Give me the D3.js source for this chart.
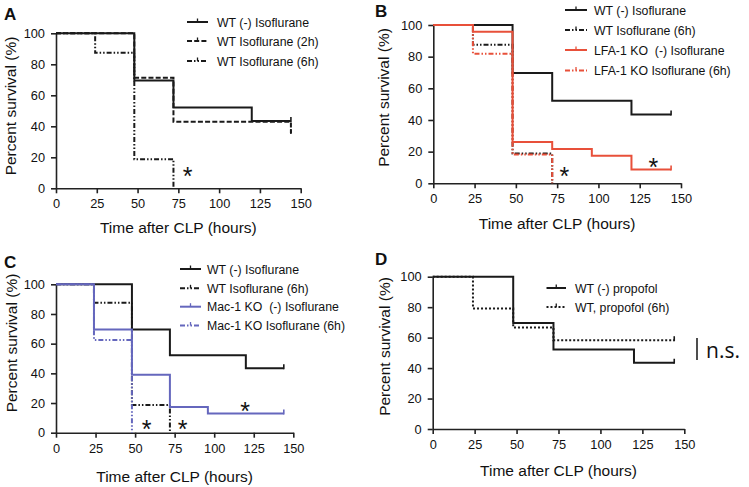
<!DOCTYPE html>
<html>
<head>
<meta charset="utf-8">
<script src="https://cdn.jsdelivr.net/npm/d3@7"></script>
<style>
  html, body { margin: 0; padding: 0; background: #fff; }
  svg { display: block; }
  text { font-family: "Liberation Sans", Arial, Helvetica, sans-serif; fill: #111; white-space: pre; }
</style>
</head>
<body>
<svg id="chart" width="749" height="487"></svg>
<script>
// ---------------- DATA ----------------
const xTicks = [0, 25, 50, 75, 100, 125, 150];
const yTicks = [0, 20, 40, 60, 80, 100];
const xTitle = "Time after CLP (hours)";
const yTitle = "Percent survival (%)";

// WT (-) isoflurane (shared control curve)
const wtCtrlTimes = [0, 48, 72, 120, 144];
const wtCtrlSurv  = [100, 69.6, 52.2, 43.5, 43.5];
// WT isoflurane (2h)
const wt2hTimes = [0, 48, 72, 144];
const wt2hSurv  = [100, 71.4, 42.9, 35.7];
// WT isoflurane (6h)
const wt6hTimes = [0, 24, 48, 72];
const wt6hSurv  = [100, 87.5, 18.75, 0];
// LFA-1 KO (-) isoflurane
const lfaCtrlTimes = [0, 24, 48, 72, 96, 120, 144];
const lfaCtrlSurv  = [100, 95.7, 26.1, 21.7, 17.4, 8.7, 8.7];
// LFA-1 KO isoflurane (6h)
const lfa6hTimes = [0, 24, 48, 72];
const lfa6hSurv  = [100, 81.8, 18.2, 0];
// Mac-1 KO (-) isoflurane
const macCtrlTimes = [0, 24, 48, 72, 96, 144];
const macCtrlSurv  = [100, 69.6, 39.1, 17.4, 13.0, 13.0];
// Mac-1 KO isoflurane (6h)
const mac6hTimes = [0, 24, 48];
const mac6hSurv  = [100, 62.5, 0];
// WT (-) propofol
const propCtrlTimes = [0, 48, 72, 120, 144];
const propCtrlSurv  = [100, 69.6, 52.2, 43.5, 43.5];
// WT, propofol (6h)
const prop6hTimes = [0, 24, 48, 72, 144];
const prop6hSurv  = [100, 79.2, 66.7, 58.3, 58.3];

// significance asterisks [time, survival]
const starsA = [[80.7, 11.4]];
const starsB = [[79.3, 8.4], [133.2, 13.6]];
const starsC = [[57.3, 6.3], [80.1, 6.3], [119.5, 18.2]];

// ---------------- STYLES ----------------
const BLACK = "#1a1a1a", RED = "#e8503a", BLUE = "#6567bd";
const SOLID = null, DASH = "5,2.2", DDOT = "5,2,1.5,2,1.5,2", DOT = "2,2";

const svg = d3.select("#chart");

function panel(cfg) {
  const x = d3.scaleLinear().domain([0, 150]).range([cfg.x0, cfg.x1]);
  const y = d3.scaleLinear().domain([0, 100]).range([cfg.yb, cfg.yt]);
  const g = svg.append("g");

  // axes
  const ax = g.append("g").attr("transform", `translate(0,${cfg.yb})`)
    .call(d3.axisBottom(x).tickValues(xTicks).tickSize(5).tickSizeOuter(0).tickPadding(6));
  const ay = g.append("g").attr("transform", `translate(${cfg.x0},0)`)
    .call(d3.axisLeft(y).tickValues(yTicks).tickSize(5).tickSizeOuter(0).tickPadding(6));
  [ax, ay].forEach(a => {
    a.selectAll("path,line").attr("stroke", "#222").attr("stroke-width", 1.6);
    a.selectAll("text").attr("font-size", 12.8).attr("fill", "#111")
      .style("font-family", "'Liberation Sans', Arial, sans-serif");
  });

  // titles
  g.append("text").attr("x", (cfg.x0 + cfg.x1) / 2).attr("y", cfg.xtY)
    .attr("text-anchor", "middle").attr("font-size", 15.5).text(xTitle);
  g.append("text").attr("transform", `translate(${cfg.ytX},${cfg.ytC}) rotate(-90)`)
    .attr("text-anchor", "middle").attr("font-size", 15.5).text(yTitle);
  g.append("text").attr("x", cfg.lx).attr("y", cfg.ly)
    .attr("font-size", 17).attr("font-weight", "bold").text(cfg.letter);

  // curves
  const line = d3.line().x(d => x(d[0])).y(d => y(d[1])).curve(d3.curveStepAfter);
  cfg.series.forEach(s => {
    const pts = s.t.map((t, i) => [t, s.s[i]]);
    g.append("path").datum(pts).attr("d", line)
      .attr("fill", "none").attr("stroke", s.color).attr("stroke-width", 2)
      .attr("stroke-dasharray", s.dash).attr("stroke-linejoin", "miter");
    const last = pts[pts.length - 1];
    if (last[1] > 0) {
      g.append("line").attr("x1", x(last[0])).attr("x2", x(last[0]))
        .attr("y1", y(last[1]) + 1).attr("y2", y(last[1]) - 4)
        .attr("stroke", s.color).attr("stroke-width", 1.6);
    }
  });

  // legend
  const L = cfg.legend;
  cfg.series.forEach((s, i) => {
    const yy = L.rows[i];
    g.append("line").attr("x1", L.x1).attr("x2", L.x2).attr("y1", yy).attr("y2", yy)
      .attr("stroke", s.color).attr("stroke-width", 2).attr("stroke-dasharray", s.dash);
    g.append("line").attr("x1", (L.x1 + L.x2) / 2).attr("x2", (L.x1 + L.x2) / 2)
      .attr("y1", yy).attr("y2", yy - 3.5).attr("stroke", s.color).attr("stroke-width", 1.3);
    g.append("text").attr("x", L.tx).attr("y", yy + 4.5).attr("font-size", 12.3)
      .attr("xml:space", "preserve").text(s.name);
  });

  // asterisks
  (cfg.stars || []).forEach(p => {
    g.append("text").attr("x", x(p[0])).attr("y", y(p[1]) + 14.5)
      .attr("text-anchor", "middle").attr("font-size", 25).text("*");
  });
  return { x, y, g };
}

panel({
  letter: "A", lx: 4, ly: 20,
  x0: 56, x1: 300.7, yt: 33.3, yb: 188.3, xtY: 233, ytX: 15.5, ytC: 106,
  series: [
    { name: "WT (-) Isoflurane", t: wtCtrlTimes, s: wtCtrlSurv, color: BLACK, dash: SOLID },
    { name: "WT Isoflurane (2h)", t: wt2hTimes, s: wt2hSurv, color: BLACK, dash: DASH },
    { name: "WT Isoflurane (6h)", t: wt6hTimes, s: wt6hSurv, color: BLACK, dash: DDOT }
  ],
  legend: { x1: 187, x2: 208, tx: 217, rows: [22, 41, 61] },
  stars: starsA
});

panel({
  letter: "B", lx: 375, ly: 17,
  x0: 433.3, x1: 681, yt: 25, yb: 183.3, xtY: 229, ytX: 388.5, ytC: 97.5,
  series: [
    { name: "WT (-) Isoflurane", t: wtCtrlTimes, s: wtCtrlSurv, color: BLACK, dash: SOLID },
    { name: "WT Isoflurane (6h)", t: wt6hTimes, s: wt6hSurv, color: BLACK, dash: DDOT },
    { name: "LFA-1 KO  (-) Isoflurane", t: lfaCtrlTimes, s: lfaCtrlSurv, color: RED, dash: SOLID },
    { name: "LFA-1 KO Isoflurane (6h)", t: lfa6hTimes, s: lfa6hSurv, color: RED, dash: DDOT }
  ],
  legend: { x1: 565, x2: 587, tx: 594, rows: [10, 30, 50, 70.5] },
  stars: starsB
});

panel({
  letter: "C", lx: 4, ly: 268,
  x0: 56, x1: 293.3, yt: 284.3, yb: 432.7, xtY: 482, ytX: 16.5, ytC: 343,
  series: [
    { name: "WT (-) Isoflurane", t: wtCtrlTimes, s: wtCtrlSurv, color: BLACK, dash: SOLID },
    { name: "WT Isoflurane (6h)", t: wt6hTimes, s: wt6hSurv, color: BLACK, dash: DDOT },
    { name: "Mac-1 KO  (-) Isoflurane", t: macCtrlTimes, s: macCtrlSurv, color: BLUE, dash: SOLID },
    { name: "Mac-1 KO Isoflurane (6h)", t: mac6hTimes, s: mac6hSurv, color: BLUE, dash: DDOT }
  ],
  legend: { x1: 180, x2: 201, tx: 207, rows: [269, 288.3, 306.7, 325.5] },
  stars: starsC
});

panel({
  letter: "D", lx: 375, ly: 265,
  x0: 432.7, x1: 684.3, yt: 276.7, yb: 429, xtY: 475.5, ytX: 389.5, ytC: 346.5,
  series: [
    { name: "WT (-) propofol", t: propCtrlTimes, s: propCtrlSurv, color: BLACK, dash: SOLID },
    { name: "WT, propofol (6h)", t: prop6hTimes, s: prop6hSurv, color: BLACK, dash: DOT }
  ],
  legend: { x1: 546.5, x2: 566, tx: 575, rows: [288, 307] }
});

// n.s. annotation
svg.append("line").attr("x1", 697).attr("x2", 697).attr("y1", 338).attr("y2", 360)
  .attr("stroke", "#222").attr("stroke-width", 1.6);
svg.append("text").attr("x", 706).attr("y", 358).attr("font-size", 21)
  .style("font-family", "'Open Sans', 'Noto Sans', sans-serif").text("n.s.");
</script>
</body>
</html>
